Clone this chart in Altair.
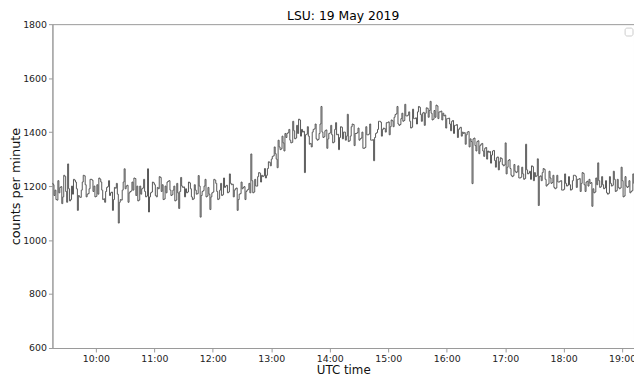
import altair as alt
import pandas as pd

chart_title = "LSU: 19 May 2019"
x_title = "UTC time"
y_title = "counts per minute"

start_minute = 555          # 09:15 UTC, minutes after midnight
bin_minutes = 1

counts = [
    # 09:15
    1210, 1205, 1165, 1185, 1150, 1148, 1220, 1175, 1195, 1198, 1135, 1160, 1240, 1236, 1180, 1140, 1282, 1190, 1145, 1150,
    # 09:35
    1200, 1170, 1225, 1222, 1215, 1190, 1110, 1165, 1160, 1158, 1185, 1215, 1240, 1238, 1205, 1160, 1170, 1172, 1190, 1225,
    # 09:55
    1225, 1222, 1180, 1200, 1160, 1162, 1205, 1170, 1230, 1226, 1215, 1185, 1150, 1153, 1140, 1180, 1195, 1198, 1220, 1165,
    # 10:15
    1175, 1178, 1110, 1150, 1195, 1192, 1210, 1170, 1063, 1140, 1150, 1148, 1185, 1215, 1264, 1190, 1200, 1203, 1140, 1175,
    # 10:35
    1180, 1182, 1215, 1185, 1230, 1228, 1165, 1200, 1145, 1148, 1200, 1170, 1190, 1193, 1225, 1180, 1160, 1163, 1264, 1104,
    # 10:55
    1160, 1175, 1178, 1215, 1212, 1205, 1165, 1160, 1195, 1190, 1235, 1232, 1180, 1205, 1150, 1152, 1200, 1175, 1215, 1218,
    # 11:15
    1220, 1185, 1165, 1168, 1185, 1200, 1145, 1148, 1210, 1175, 1117, 1180, 1232, 1200, 1195, 1197, 1160, 1190, 1175, 1178,
    # 11:35
    1215, 1212, 1190, 1160, 1150, 1153, 1205, 1185, 1170, 1172, 1239, 1200, 1085, 1165, 1180, 1183, 1200, 1225, 1160, 1163,
    # 11:55
    1195, 1170, 1113, 1160, 1175, 1178, 1225, 1222, 1210, 1180, 1150, 1153, 1185, 1210, 1165, 1168, 1230, 1195, 1200, 1203,
    # 12:15
    1175, 1178, 1245, 1210, 1205, 1207, 1160, 1185, 1190, 1193, 1110, 1150, 1170, 1172, 1215, 1190, 1195, 1198, 1150, 1180,
    # 12:35
    1185, 1188, 1210, 1175, 1319, 1220, 1175, 1178, 1225, 1200, 1200, 1235, 1250, 1248, 1215, 1240, 1235, 1238, 1265, 1230,
    # 12:55
    1240, 1265, 1290, 1288, 1275, 1300, 1310, 1312, 1345, 1320, 1300, 1268, 1370, 1345, 1335, 1338, 1385, 1360, 1330, 1395,
    # 13:15
    1380, 1395, 1398, 1410, 1370, 1360, 1362, 1440, 1405, 1375, 1378, 1425, 1395, 1448, 1445, 1385, 1410, 1400, 1403, 1250,
    # 13:35
    1390, 1392, 1420, 1385, 1355, 1358, 1345, 1400, 1410, 1412, 1430, 1375, 1370, 1373, 1395, 1430, 1495, 1400, 1380, 1383,
    # 13:55
    1405, 1408, 1340, 1375, 1395, 1397, 1425, 1390, 1360, 1363, 1410, 1435, 1390, 1392, 1335, 1380, 1420, 1418, 1375, 1400,
    # 14:15
    1400, 1370, 1385, 1466, 1365, 1368, 1385, 1420, 1430, 1428, 1350, 1395, 1395, 1398, 1415, 1370, 1375, 1378, 1400, 1340,
    # 14:35
    1340, 1343, 1420, 1390, 1390, 1393, 1430, 1370, 1370, 1372, 1294, 1380, 1395, 1398, 1410, 1440, 1440, 1437, 1385, 1410,
    # 14:55
    1415, 1413, 1400, 1435, 1435, 1438, 1390, 1420, 1445, 1442, 1420, 1455, 1465, 1468, 1495, 1430, 1425, 1428, 1450, 1470,
    # 15:15
    1440, 1443, 1503, 1460, 1460, 1463, 1475, 1440, 1415, 1418, 1485, 1450, 1450, 1453, 1430, 1475, 1495, 1492, 1465, 1440,
    # 15:35
    1470, 1473, 1425, 1470, 1490, 1488, 1455, 1480, 1514, 1470, 1445, 1448, 1480, 1455, 1500, 1497, 1450, 1475, 1475, 1478,
    # 15:55
    1445, 1470, 1460, 1463, 1415, 1450, 1450, 1452, 1430, 1405, 1440, 1443, 1395, 1425, 1425, 1428, 1380, 1410, 1415, 1418,
    # 16:15
    1385, 1400, 1395, 1398, 1355, 1390, 1400, 1402, 1345, 1375, 1365, 1209, 1375, 1378, 1350, 1330, 1365, 1368, 1320, 1350,
    # 16:35
    1355, 1358, 1330, 1310, 1340, 1343, 1300, 1330, 1325, 1328, 1285, 1315, 1330, 1332, 1295, 1270, 1305, 1308, 1260, 1290,
    # 16:55
    1305, 1302, 1280, 1275, 1278, 1360, 1245, 1270, 1295, 1298, 1265, 1240, 1235, 1238, 1280, 1255, 1250, 1253, 1275, 1230,
    # 17:15
    1230, 1233, 1270, 1245, 1225, 1228, 1355, 1260, 1245, 1248, 1255, 1225, 1275, 1272, 1220, 1250, 1235, 1238, 1301, 1128,
    # 17:35
    1235, 1238, 1220, 1250, 1265, 1262, 1225, 1200, 1205, 1208, 1255, 1230, 1210, 1213, 1240, 1195, 1190, 1193, 1240, 1215,
    # 17:55
    1215, 1218, 1220, 1185, 1185, 1188, 1245, 1210, 1200, 1203, 1235, 1205, 1185, 1188, 1220, 1240, 1240, 1237, 1195, 1225,
    # 18:15
    1225, 1228, 1180, 1210, 1250, 1247, 1205, 1180, 1215, 1218, 1200, 1225, 1210, 1213, 1125, 1190, 1175, 1178, 1230, 1205,
    # 18:35
    1286, 1220, 1195, 1198, 1235, 1205, 1190, 1193, 1220, 1175, 1170, 1173, 1235, 1210, 1200, 1203, 1255, 1225, 1180, 1183,
    # 18:55
    1225, 1195, 1190, 1193, 1270, 1220, 1160, 1163, 1235, 1200, 1195, 1198, 1220, 1175, 1180, 1183, 1245, 1210,
]

x_tick_minutes = [600, 660, 720, 780, 840, 900, 960, 1020, 1080, 1140]
y_ticks = [600, 800, 1000, 1200, 1400, 1600, 1800]
x_domain = [555.4, 1152.2]
y_domain = [600, 1800]

minutes = [start_minute + bin_minutes * i for i in range(len(counts))]
# closing point so the last step is drawn to its end
minutes.append(start_minute + bin_minutes * len(counts))
values = counts + [counts[-1]]

df = pd.DataFrame({"minute": minutes, "counts": values})

FONT = "DejaVu Sans"
PLOT_W = 589
PLOT_H = 328

line = alt.Chart(df).mark_line(
    interpolate="step-after", color="#555555", strokeWidth=1, clip=True
).encode(
    x=alt.X(
        "minute:Q",
        scale=alt.Scale(domain=x_domain, nice=False, zero=False),
        axis=alt.Axis(
            title=x_title,
            values=x_tick_minutes,
            labelExpr="(floor(datum.value/60) < 10 ? '0' : '') + floor(datum.value/60) + ':00'",
            grid=False,
            titleY=22,
            titleBaseline="middle",
        ),
    ),
    y=alt.Y(
        "counts:Q",
        scale=alt.Scale(domain=y_domain, nice=False, zero=False),
        axis=alt.Axis(
            title=y_title,
            values=y_ticks,
            format="d",
            grid=False,
            titleX=-37,
            titleY=PLOT_H / 2,
            titleAngle=270,
            titleAlign="center",
            titleBaseline="middle",
            titleFontSize=13,
        ),
    ),
)

title_mark = alt.Chart(pd.DataFrame({"k": [0]})).mark_text(
    text=chart_title, font=FONT, fontSize=12.5, color="black",
    align="center", baseline="alphabetic",
).encode(
    x=alt.value(PLOT_W / 2), y=alt.value(-4)
)

legend_box = alt.Chart(pd.DataFrame({"k": [0]})).mark_rect(
    fill="white", stroke="#cccccc", strokeWidth=1, cornerRadius=2
).encode(
    x=alt.value(580), x2=alt.value(588), y=alt.value(4), y2=alt.value(12)
)

chart = alt.layer(line, legend_box, title_mark).properties(
    width=PLOT_W,
    height=PLOT_H,
    autosize=alt.AutoSizeParams(type="none"),
    padding={"left": 45, "top": 14, "right": 0, "bottom": 27},
).configure_view(
    stroke="#999999", strokeWidth=1
).configure_axis(
    labelFont=FONT, titleFont=FONT, labelFontSize=9.5, titleFontSize=12,
    titleFontWeight="normal", labelColor="#222222", titleColor="#111111",
    domainColor="#999999", tickColor="#999999", tickSize=4, labelPadding=2,
)

chart.save("out.html", embed_options={"renderer": "svg", "actions": False})
